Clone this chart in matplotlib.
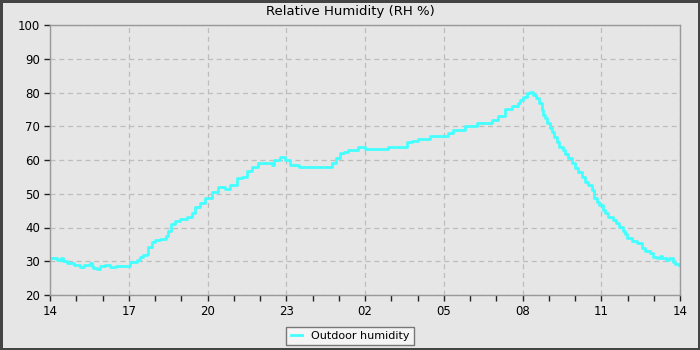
import numpy as np
import matplotlib.pyplot as plt
from matplotlib.lines import Line2D

# hours since 14:00 and outdoor RH (%)
hours = [0.0, 0.25, 0.4, 0.51, 0.65, 0.76, 0.9, 1.02, 1.14, 1.3, 1.52, 1.6, 1.65, 1.78, 1.9, 2.1,
         2.3, 2.5, 2.79, 3.05, 3.3, 3.43, 3.55, 3.68, 3.75, 3.87, 4.0, 4.19, 4.4, 4.5, 4.62, 4.75,
         4.95, 5.21, 5.4, 5.52, 5.71, 5.9, 6.16, 6.41, 6.67, 6.86, 7.11, 7.3, 7.49, 7.68, 7.94,
         8.3, 8.45, 8.55, 8.76, 8.95, 9.14, 9.5, 10.0, 10.6, 10.75, 10.9, 11.05, 11.2, 11.37,
         11.75, 12.0, 12.4, 12.89, 13.59, 13.8, 14.0, 14.2, 14.48, 15.0, 15.17, 15.37, 15.81,
         16.25, 16.83, 17.08, 17.33, 17.59, 17.84,
         17.90, 18.03, 18.16, 18.29, 18.41, 18.51, 18.64, 18.73, 18.79, 18.86, 18.95, 19.05,
         19.11, 19.20, 19.30, 19.40, 19.53, 19.62, 19.75, 19.87, 20.0, 20.13, 20.25, 20.38,
         20.51, 20.63, 20.72, 20.83, 20.93, 21.05, 21.14, 21.27, 21.46, 21.56, 21.69, 21.82,
         21.90, 21.99, 22.16, 22.35, 22.54, 22.67, 22.86, 22.98, 23.11, 23.24, 23.30, 23.47,
         23.59, 23.72, 23.81, 23.98]
humidity = [31, 30.5, 31, 30, 29.5, 29.4, 29, 28.9, 28.4, 28.8, 29.4, 28.6, 28.1, 27.6, 28.6, 28.8,
            28.4, 28.6, 28.6, 29.9, 30.4, 31.2, 31.8, 32.1, 34.3, 35.8, 36.3, 36.5, 37.5, 39, 41, 42,
            42.4, 43.2, 44.2, 46.2, 47.2, 48.6, 50.6, 52.1, 51.3, 52.6, 54.6, 55.1, 56.6, 58, 59.2,
            59.2, 58.5, 60, 61, 60, 58.5, 58, 58, 58, 59.2, 60.5, 62, 62.5, 63, 64, 63.2, 63.2,
            64, 65.2, 65.7, 66.1, 66.1, 67, 67.1, 68.1, 68.9, 70.1, 71.1, 71.9, 73, 75, 76, 76.8,
            77.8, 78.8, 80, 80.1, 79.3, 78.3, 76.8, 74.8, 73.3, 72.3, 70.9, 69.4,
            68.4, 66.9, 65.4, 64, 63, 61.7, 60.5, 59, 57.5, 56.3, 55.1, 53.6,
            52.6, 51.1, 48.6, 47.6, 46.7, 45.2, 44.2, 43.2, 42.2, 41.2, 40.2, 39.0,
            38.1, 36.8, 36.1, 35.3, 34.0, 33.1, 32.3, 31.3, 30.9, 31.6, 30.9, 30.4,
            30.9, 29.9, 29.1, 29]
tick_labels = ["14", "17", "20", "23", "02", "05", "08", "11", "14"]

fig = plt.figure(figsize=(7, 3.5), dpi=100, facecolor="#e6e6e6",
                 edgecolor="#444444", linewidth=2.5)
ax = fig.add_axes([50 / 700, 55 / 350, 630 / 700, 270 / 350])
ax.set_facecolor("#e6e6e6")

ax.plot(hours, humidity, drawstyle="steps-post", color="#44ffff", linewidth=2)

ax.set_xlim(0, 24)
ax.set_ylim(20, 100)
ax.set_xticks(np.arange(0, 25, 3))
ax.set_xticklabels(tick_labels)
ax.set_xticks(np.arange(0, 25, 1), minor=True)
ax.set_yticks(np.arange(20, 101, 10))
ax.tick_params(axis="both", which="major", direction="out", length=4, width=1,
               color="#222222", labelsize=8.5, pad=3)
ax.tick_params(axis="x", which="minor", direction="out", length=4, width=1, color="#222222")
ax.grid(True, which="major", linestyle=(0, (4, 3)), color="#bdbdbd", linewidth=0.9)
for s in ax.spines.values():
    s.set_color("#999999")
    s.set_linewidth(1)

fig.text(0.5, 1 - 12 / 350, "Relative Humidity (RH %)", ha="center", va="center", fontsize=9.5)

handle = Line2D([], [], color="#44ffff", linewidth=2)
leg = fig.legend([handle], ["Outdoor humidity"], loc="center", bbox_to_anchor=(350 / 700, 14 / 350),
                 fontsize=8, frameon=True, fancybox=False, handlelength=1.0, borderpad=0.4)
leg.get_frame().set_facecolor("#f4f4f4")
leg.get_frame().set_edgecolor("#777777")
leg.get_frame().set_alpha(1)

fig.savefig("out.png", dpi=100, facecolor=fig.get_facecolor(), edgecolor=fig.get_edgecolor())
